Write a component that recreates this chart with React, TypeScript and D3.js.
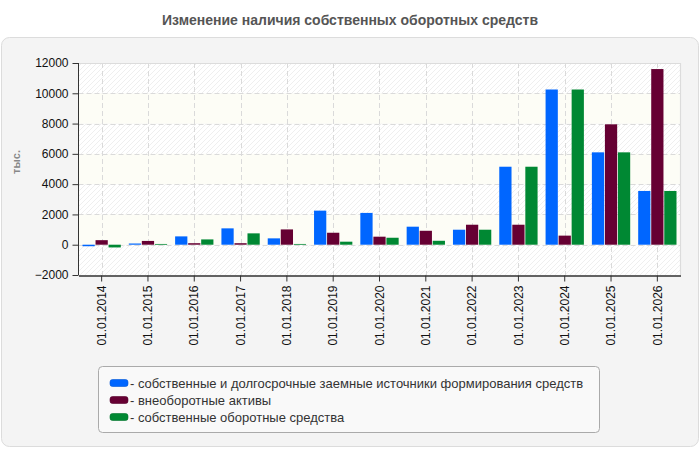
import React, { useRef, useEffect } from 'react';
import * as d3 from 'd3';

// Даты отчётов
const dates = [
  '01.01.2014', '01.01.2015', '01.01.2016', '01.01.2017', '01.01.2018', '01.01.2019', '01.01.2020',
  '01.01.2021', '01.01.2022', '01.01.2023', '01.01.2024', '01.01.2025', '01.01.2026',
];

// Значения рядов, тыс.
const ownAndLongTerm = [-100, 80, 550, 1080, 420, 2250, 2100, 1190, 990, 5150, 10250, 6100, 3550];
const nonCurrentAssets = [300, 250, 100, 100, 1010, 790, 530, 920, 1320, 1320, 600, 7950, 11600];
const ownWorkingCapital = [-180, 50, 350, 750, 50, 200, 460, 260, 990, 5150, 10250, 6100, 3550];

const yTicks = [-2000, 0, 2000, 4000, 6000, 8000, 10000, 12000];

const seriesNames = [
  'собственные и долгосрочные заемные источники формирования средств',
  'внеоборотные активы',
  'собственные оборотные средства',
];
const seriesColors = ['#0066ff', '#660033', '#008833'];
const seriesValues = [ownAndLongTerm, nonCurrentAssets, ownWorkingCapital];

const App = () => {
  const svgRef = useRef(null);
  const width = 700;
  const height = 450;

  useEffect(() => {
    const svg = d3.select(svgRef.current);
    svg.selectAll('*').remove();

    const font = '"Liberation Sans", Arial, sans-serif';
    const left = 78.5, right = 680.5, top = 63, bottom = 275;

    // Штриховка фона
    const defs = svg.append('defs');
    const pat = defs.append('pattern')
      .attr('id', 'hatch')
      .attr('patternUnits', 'userSpaceOnUse')
      .attr('width', 5)
      .attr('height', 5);
    pat.append('rect').attr('width', 5).attr('height', 5).attr('fill', '#ffffff');
    pat.append('path')
      .attr('d', 'M-1,1 l2,-2 M0,5 l5,-5 M4,6 l2,-2')
      .attr('stroke', '#efefef')
      .attr('stroke-width', 1);

    // Панель
    svg.append('rect')
      .attr('x', 1.5).attr('y', 37.5)
      .attr('width', 697).attr('height', 409)
      .attr('rx', 8)
      .attr('fill', '#f4f4f4')
      .attr('stroke', '#dcdcdc');

    // Заголовок
    svg.append('text')
      .attr('x', 350).attr('y', 25)
      .attr('text-anchor', 'middle')
      .attr('font-family', font)
      .attr('font-size', 14)
      .attr('font-weight', 'bold')
      .attr('fill', '#555')
      .text('Изменение наличия собственных оборотных средств');

    const x = d3.scaleBand().domain(dates).range([left, right]);
    const xSub = d3.scaleBand()
      .domain(seriesNames)
      .range([4, x.bandwidth() - 4])
      .paddingInner(0.06);
    const y = d3.scaleLinear().domain([-2000, 12000]).range([bottom, top]);

    // Полосы фона
    const g = svg.append('g');
    for (let i = 0; i < yTicks.length - 1; i++) {
      const y0 = y(yTicks[i + 1]);
      const y1 = y(yTicks[i]);
      g.append('rect')
        .attr('x', left).attr('y', y0)
        .attr('width', right - left).attr('height', y1 - y0)
        .attr('fill', i % 2 === 0 ? 'url(#hatch)' : '#fdfdf6');
    }

    // Сетка
    g.selectAll('.hgrid')
      .data(yTicks.slice(1, -1))
      .enter()
      .append('line')
      .attr('x1', left).attr('x2', right)
      .attr('y1', d => Math.round(y(d)) + 0.5)
      .attr('y2', d => Math.round(y(d)) + 0.5)
      .attr('stroke', '#dadada')
      .attr('stroke-dasharray', '5,3');

    g.selectAll('.vgrid')
      .data(dates)
      .enter()
      .append('line')
      .attr('x1', d => Math.round(x(d) + x.bandwidth() / 2) + 0.5)
      .attr('x2', d => Math.round(x(d) + x.bandwidth() / 2) + 0.5)
      .attr('y1', top).attr('y2', bottom)
      .attr('stroke', '#dadada')
      .attr('stroke-dasharray', '5,3');

    // Рамка сверху и справа
    g.append('path')
      .attr('d', `M${left},${top + 0.5}H${right}V${bottom}`)
      .attr('fill', 'none')
      .attr('stroke', '#dcdcdc')
      .attr('stroke-width', 1.2);

    // Столбцы
    seriesValues.forEach((vals, si) => {
      g.selectAll(`.bar-${si}`)
        .data(vals)
        .enter()
        .append('rect')
        .attr('x', (d, i) => x(dates[i]) + xSub(seriesNames[si]))
        .attr('y', d => y(Math.max(0, d)))
        .attr('width', xSub.bandwidth())
        .attr('height', d => Math.abs(y(d) - y(0)))
        .attr('fill', seriesColors[si]);
    });

    // Ось Y
    const yAxis = svg.append('g')
      .attr('transform', `translate(${left},0)`)
      .call(d3.axisLeft(y).tickValues(yTicks).tickSize(6).tickPadding(4).tickFormat(d3.format('d')));
    yAxis.select('.domain').attr('stroke', '#333').attr('d', `M0,${top}V${bottom}`);
    yAxis.selectAll('.tick line').attr('stroke', '#333');
    yAxis.selectAll('text')
      .attr('font-family', font)
      .attr('font-size', 12)
      .attr('fill', '#111');

    // Ось X
    const xAxis = svg.append('g')
      .attr('transform', `translate(0,${bottom + 0.5})`)
      .call(d3.axisBottom(x).tickSize(6).tickSizeOuter(0));
    xAxis.select('.domain').attr('stroke', '#333').attr('stroke-width', 1.3);
    xAxis.selectAll('.tick line').attr('stroke', '#333');
    xAxis.selectAll('text')
      .attr('font-family', font)
      .attr('font-size', 12)
      .attr('fill', '#111')
      .attr('transform', 'rotate(-90)')
      .attr('text-anchor', 'end')
      .attr('x', -10)
      .attr('y', 0)
      .attr('dy', '0.35em');

    // Подпись оси Y
    svg.append('text')
      .attr('transform', 'translate(20,162) rotate(-90)')
      .attr('text-anchor', 'middle')
      .attr('font-family', font)
      .attr('font-size', 11)
      .attr('font-weight', 'bold')
      .attr('fill', '#888')
      .text('тыс.');

    // Легенда
    const legend = svg.append('g');
    legend.append('rect')
      .attr('x', 98.5).attr('y', 366.5)
      .attr('width', 501).attr('height', 66)
      .attr('rx', 4)
      .attr('fill', '#f9f9f9')
      .attr('stroke', '#aaa');

    seriesNames.forEach((name, i) => {
      const cy = 383 + i * 17;
      legend.append('rect')
        .attr('x', 110).attr('y', cy - 3.5)
        .attr('width', 18).attr('height', 7)
        .attr('rx', 2.5)
        .attr('fill', seriesColors[i])
        .attr('stroke', d3.color(seriesColors[i]).darker(0.5))
        .attr('stroke-width', 0.6);
      legend.append('text')
        .attr('x', 130).attr('y', cy)
        .attr('dy', '0.35em')
        .attr('font-family', font)
        .attr('font-size', 13)
        .attr('fill', '#333')
        .text('- ' + name);
    });
  }, []);

  return (
    <svg
      ref={svgRef}
      width={width}
      height={height}
      style={{ position: 'absolute', left: 0, top: 0 }}
    />
  );
};

export default App;
